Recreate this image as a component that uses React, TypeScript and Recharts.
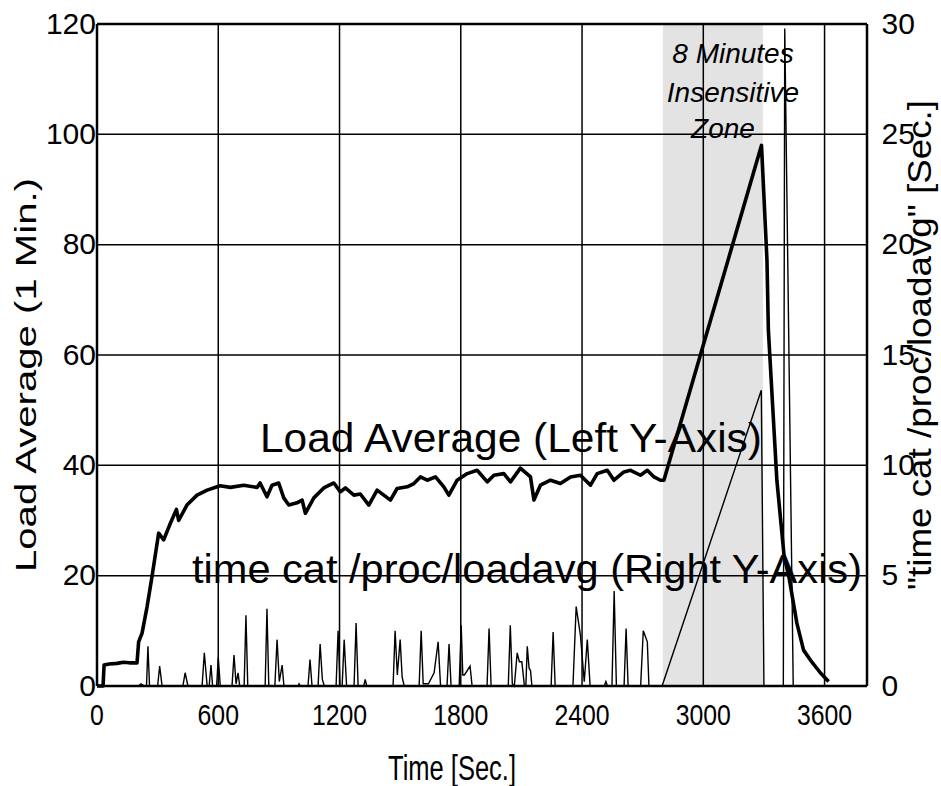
import React from 'react'
import {
  ComposedChart,
  Line,
  XAxis,
  YAxis,
  CartesianGrid,
  ReferenceArea,
  ReferenceLine,
} from 'recharts'

const FONT = '"Liberation Sans", Arial, sans-serif'

// load average (1 min.), left axis
const loadTime = [
  0, 30, 35, 60, 100, 130, 160, 198, 206, 223, 248, 272, 305, 330, 363, 393, 404, 445, 495, 545,
  609, 660, 726, 792, 807, 841, 866, 899, 924, 949, 990, 1015, 1031, 1073, 1122, 1172, 1204, 1229,
  1271, 1303, 1345, 1386, 1452, 1485, 1535, 1568, 1600, 1634, 1675, 1716, 1741, 1782, 1832, 1881,
  1931, 1964, 2013, 2046, 2095, 2145, 2162, 2194, 2244, 2293, 2343, 2392, 2442, 2475, 2525, 2558,
  2607, 2640, 2689, 2723, 2756, 2788, 2805, 3288, 3315, 3322, 3364, 3400, 3425, 3463, 3496, 3530,
  3579, 3620,
]
const loadValue = [
  0, 0, 3.8, 4.0, 4.1, 4.3, 4.2, 4.2, 8.0, 9.6, 14.4, 19.8, 27.7, 26.5, 29.5, 32.0, 30.0, 32.8, 34.6, 35.5,
  36.3, 36.0, 36.4, 36.0, 36.8, 34.3, 36.4, 36.8, 34.1, 32.8, 33.2, 33.7, 31.3, 34.1, 35.9, 36.8, 35.2, 35.9,
  34.6, 34.8, 32.8, 35.5, 33.7, 35.8, 36.1, 36.7, 37.9, 37.3, 37.9, 36.1, 34.6, 37.3, 38.5, 39.1,
  37.0, 38.2, 38.5, 37.0, 39.5, 37.9, 33.7, 36.4, 37.3, 36.7, 37.9, 38.2, 36.4, 38.5, 39.1, 37.3,
  38.8, 39.1, 38.2, 39.1, 37.9, 37.3, 37.3, 98.0, 77.2, 64.5, 37.3, 23.5, 19.5, 11.4, 6.5, 4.7,
  2.4, 0.8,
]

// time cat /proc/loadavg [sec.], right axis
const catTime = [
  0, 205, 218, 235, 245, 252, 260, 300, 310, 322, 425, 436, 450, 520, 531, 545, 555, 564, 572, 592,
  600, 610, 668, 678, 688, 698, 706, 728, 737, 746, 832, 841, 850, 880, 891, 902, 916, 925, 995, 1000,
  1006, 1044, 1054, 1064, 1094, 1104, 1115, 1125, 1183, 1193, 1203, 1213, 1223, 1235, 1272, 1282, 1292,
  1320, 1327, 1335, 1465, 1475, 1486, 1500, 1510, 1520, 1594, 1604, 1614, 1640, 1668, 1688, 1700, 1732,
  1742, 1752, 1792, 1802, 1810, 1818, 1846, 1856, 1930, 1940, 1950, 2035, 2045, 2055, 2065, 2079, 2090,
  2102, 2115, 2122, 2129, 2138, 2145, 2152, 2247, 2257, 2267, 2355, 2371, 2392, 2411, 2426, 2440, 2510,
  2518, 2526, 2548, 2559, 2570, 2608, 2618, 2628, 2690, 2703, 2723, 2731, 2796, 3287, 3300, 3396, 3403,
  3445, 3620,
]
const catValue = [
  0, 0, 0.1, 0, 0, 1.8, 0, 0, 0.9, 0, 0, 0.6, 0, 0, 1.5, 0, 0, 0.95, 0, 0,
  1.3, 0, 0, 1.4, 0.1, 0.6, 0, 0, 3.2, 0, 0, 3.5, 0, 0, 2.1, 0.2, 0.95, 0, 0, 0.1,
  0, 0, 1.2, 0, 0, 1.9, 0.3, 0, 0, 2.5, 0, 0, 2.1, 0, 0, 2.85, 0,
  0, 0.3, 0, 0, 2.5, 0.5, 2.1, 0.4, 0, 0, 2.5, 0.1, 0.1, 0.6, 2.0, 0, 0,
  1.9, 0, 0, 2.75, 0.5, 0.5, 0.9, 0, 0, 2.6, 0, 0, 2.75, 0.1, 0, 1.5, 1.1,
  1.1, 0, 0, 1.8, 0.8, 0.7, 0, 0, 2.45, 0, 0, 3.6, 2.3, 0.2, 2.1, 0, 0,
  0.2, 0, 0, 4.3, 0, 0, 2.6, 0, 0, 2.5, 2.0, 0, 0, 13.4, 0, 0, 29.8,
  0, 0,
]

const timeTicks = [0, 600, 1200, 1800, 2400, 3000, 3600]
const loadTicks = [0, 20, 40, 60, 80, 100, 120]
const catTicks = [0, 5, 10, 15, 20, 25, 30]
const zoneStart = 2800
const zoneEnd = 3295

const loadData = loadTime.map((t, i) => ({ t, v: loadValue[i] }))
const catData = catTime.map((t, i) => ({ t, v: catValue[i] }))

function XTick({ x, y, payload }: any) {
  const s = String(payload.value)
  return (
    <text
      x={x}
      y={y + 39}
      textAnchor="middle"
      fontSize={30}
      fontFamily={FONT}
      fill="#000"
      textLength={s.length * 13.8}
      lengthAdjust="spacingAndGlyphs"
    >
      {s}
    </text>
  )
}

function LeftTick({ x, y, payload }: any) {
  return (
    <text x={x - 1} y={y + 9.5} textAnchor="end" fontSize={30} fontFamily={FONT} fill="#000">
      {payload.value}
    </text>
  )
}

function RightTick({ x, y, payload }: any) {
  return (
    <text x={x + 14.5} y={y + 9.5} textAnchor="start" fontSize={30} fontFamily={FONT} fill="#000">
      {payload.value}
    </text>
  )
}

export default function App() {
  return (
    <div style={{ position: 'absolute', left: 0, top: 0, width: 941, height: 786, background: '#fff' }}>
      <ComposedChart width={941} height={786} margin={{ top: 24, right: 0, bottom: 0, left: 0 }}>
        <ReferenceArea
          x1={zoneStart}
          x2={zoneEnd}
          yAxisId="left"
          fill="#e3e3e3"
          fillOpacity={1}
          stroke="none"
          zIndex={-150}
        />
        <CartesianGrid yAxisId="left" stroke="#000" strokeWidth={1.5} />
        <XAxis
          dataKey="t"
          type="number"
          domain={[0, 3810]}
          ticks={timeTicks}
          height={100}
          tickSize={0}
          tickMargin={0}
          tick={<XTick />}
          axisLine={{ stroke: '#000', strokeWidth: 2.5 }}
          allowDuplicatedCategory={false}
        />
        <YAxis
          yAxisId="left"
          domain={[0, 120]}
          ticks={loadTicks}
          width={97}
          tickSize={0}
          tickMargin={0}
          tick={<LeftTick />}
          axisLine={{ stroke: '#000', strokeWidth: 2.5 }}
        />
        <YAxis
          yAxisId="right"
          orientation="right"
          domain={[0, 30]}
          ticks={catTicks}
          width={74}
          tickSize={0}
          tickMargin={0}
          tick={<RightTick />}
          axisLine={{ stroke: '#000', strokeWidth: 2.5 }}
        />
        <ReferenceLine yAxisId="left" y={120} stroke="#000" strokeWidth={2.5} />
        <Line
          yAxisId="right"
          data={catData}
          dataKey="v"
          type="linear"
          stroke="#000"
          strokeWidth={1.4}
          dot={false}
          isAnimationActive={false}
        />
        <Line
          yAxisId="left"
          data={loadData}
          dataKey="v"
          type="linear"
          stroke="#000"
          strokeWidth={3.6}
          strokeLinejoin="round"
          dot={false}
          isAnimationActive={false}
        />
      </ComposedChart>
      <svg
        width={941}
        height={786}
        style={{ position: 'absolute', left: 0, top: 0, pointerEvents: 'none' }}
        fontFamily={FONT}
      >
        <text
          transform="translate(36,375) rotate(-90)"
          textAnchor="middle"
          fontSize={30}
          textLength={394}
          lengthAdjust="spacingAndGlyphs"
        >
          Load Average (1 Min.)
        </text>
        <text
          transform="translate(931,345) rotate(-90)"
          textAnchor="middle"
          fontSize={33}
          textLength={490}
          lengthAdjust="spacingAndGlyphs"
        >
          "time cat /proc/loadavg" [Sec.]
        </text>
        <text x={452} y={780} textAnchor="middle" fontSize={35} textLength={128} lengthAdjust="spacingAndGlyphs">
          Time [Sec.]
        </text>
        <text x={260} y={452} fontSize={40} textLength={502} lengthAdjust="spacingAndGlyphs">
          Load Average (Left Y-Axis)
        </text>
        <text x={192} y={583} fontSize={40} textLength={670} lengthAdjust="spacingAndGlyphs">
          time cat /proc/loadavg (Right Y-Axis)
        </text>
        <g fontStyle="italic" fontSize={28} textAnchor="middle">
          <text x={733} y={63}>8 Minutes</text>
          <text x={733} y={102}>Insensitive</text>
          <text x={723} y={138}>Zone</text>
        </g>
      </svg>
    </div>
  )
}
